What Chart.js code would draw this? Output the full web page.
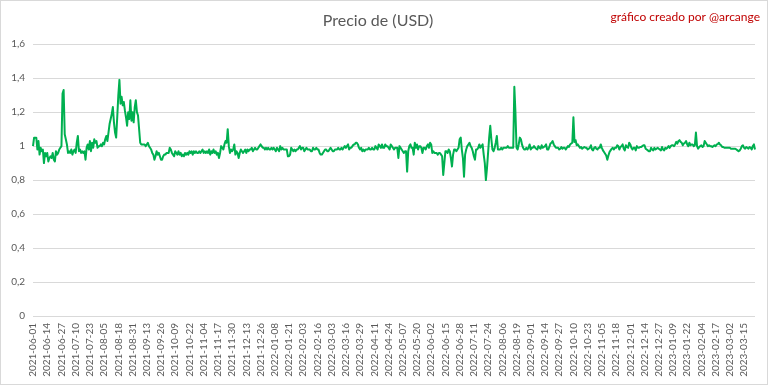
<!DOCTYPE html>
<html>
<head>
<meta charset="utf-8">
<script src="https://cdn.jsdelivr.net/npm/chart.js@4"></script>
<style>
  html, body { margin: 0; padding: 0; background: #fff; }
  #frame {
    position: absolute; left: 0; top: 0;
    width: 768px; height: 385px;
    box-sizing: border-box;
    border: 1px solid #d9d9d9;
    background: #fff;
  }
  #chart { display: block; }
</style>
</head>
<body>
<div id="frame"><canvas id="chart" width="766" height="383"></canvas></div>
<script>
// daily price (first day 2021-06-01)
const pricesJunSep21 = [
  1.00, 1.05, 1.05, 1.05, 0.98, 1.03, 0.95, 0.99, 0.97, 0.98,
  0.90, 0.96, 0.94, 0.96, 0.91, 0.93, 0.94, 0.93, 0.96, 0.92,
  0.91, 0.97, 0.95, 0.96, 0.98, 0.99, 1.00, 1.31, 1.33, 1.07,
  1.04, 1.01, 0.96, 0.97, 0.96, 0.98, 0.95, 0.97, 0.98, 0.96,
  1.02, 1.06, 0.97, 0.98, 0.96, 0.97, 0.96, 0.97, 0.92, 0.99,
  1.01, 0.98, 1.03, 0.97, 1.02, 0.99, 1.04, 1.02, 1.03, 0.99,
  1.00, 1.00, 1.01, 1.00, 1.02, 1.01, 1.04, 1.06, 1.03, 1.08,
  1.13, 1.16, 1.19, 1.23, 1.14, 1.08, 1.05, 1.17, 1.30, 1.39,
  1.25, 1.29, 1.24, 1.26, 1.21, 1.17, 1.12, 1.20, 1.16, 1.27,
  1.15, 1.20, 1.14, 1.23, 1.27, 1.20, 1.18, 1.10, 1.02, 1.01
]
const pricesSepDec21 = [
  1.01, 1.01, 1.01, 1.00, 1.01, 1.02, 1.00, 0.99, 0.98, 0.96,
  0.95, 0.92, 0.94, 0.97, 0.95, 0.96, 0.94, 0.92, 0.92, 0.94,
  0.95, 0.95, 0.96, 0.96, 0.96, 0.99, 0.98, 0.96, 0.95, 0.94,
  0.97, 0.96, 0.95, 0.97, 0.95, 0.96, 0.94, 0.95, 0.94, 0.96,
  0.95, 0.96, 0.95, 0.97, 0.96, 0.97, 0.95, 0.97, 0.96, 0.97,
  0.96, 0.96, 0.97, 0.96, 0.97, 0.98, 0.96, 0.97, 0.96, 0.97, 0.96,
  0.98, 0.95, 0.97, 0.96, 0.98, 0.96, 0.97, 0.95, 0.96, 0.93,
  0.96, 1.00, 0.99, 0.98, 1.01, 1.03, 1.02, 1.10, 1.00, 0.96,
  0.98, 0.97, 0.98, 1.01, 0.95, 0.97, 0.96, 0.93, 0.96, 0.98,
  0.97, 0.96, 0.97, 0.98, 0.96, 0.98, 0.97, 0.98, 0.98, 0.99
]
const pricesDec21Mar22 = [
  0.97, 0.98, 0.99, 0.98, 0.98, 0.99, 1.00, 1.01, 1.00, 0.99,
  0.99, 0.98, 0.99, 0.98, 0.99, 0.98, 0.98, 0.99, 0.98, 0.99,
  0.98, 0.97, 0.99, 0.98, 0.97, 1.00, 0.98, 0.99, 0.98, 0.98,
  0.98, 0.98, 0.94, 0.94, 0.95, 0.99, 0.98, 0.97, 0.98, 0.97,
  0.98, 0.98, 0.99, 1.00, 0.98, 0.99, 0.99, 0.97, 0.98, 0.99,
  0.98, 0.98, 0.98, 0.97, 0.97, 0.99, 0.98, 0.98, 0.99, 0.98,
  0.98, 0.96, 0.95, 0.95, 0.96, 0.97, 0.98, 0.98, 0.97, 0.97,
  0.98, 0.99, 0.98, 0.97, 0.97, 0.98, 0.98, 0.98, 0.99, 0.98,
  0.98, 0.99, 0.98, 0.99, 1.00, 0.99, 1.00, 1.01, 0.98, 0.99,
  0.99, 1.00, 1.01, 1.01, 1.02, 1.02, 1.01, 0.99, 0.98, 0.99
]
const pricesMarJul22 = [
  0.97, 0.98, 0.97, 0.98, 0.98, 0.98, 0.99, 0.98, 0.98, 0.99, 0.98,
  0.98, 1.00, 0.99, 0.98, 1.01, 1.00, 0.99, 1.01, 0.99, 0.99,
  1.01, 1.00, 1.00, 0.99, 0.98, 1.01, 1.00, 0.99, 0.98, 0.99,
  0.99, 0.99, 0.93, 1.00, 0.99, 0.98, 0.97, 0.96, 0.97, 0.97,
  0.85, 0.97, 1.00, 1.01, 0.99, 0.99, 0.95, 1.02, 0.99, 1.01,
  0.98, 1.00, 1.00, 0.99, 0.96, 0.99, 0.99, 0.98, 1.00, 1.01,
  0.99, 1.02, 1.01, 0.96, 0.97, 0.96, 0.96, 0.96, 0.95, 0.96,
  0.96, 0.95, 0.94, 0.83, 0.90, 0.97, 0.97, 0.96, 0.98, 0.97,
  0.93, 0.88, 0.95, 0.98, 0.98, 0.97, 0.98, 0.99, 1.04, 1.05,
  0.98, 0.93, 0.82, 0.95, 0.98, 1.00, 1.01, 1.02, 1.00, 0.99
]
const pricesJulOct22 = [
  0.97, 0.94, 0.92, 0.98, 0.98, 0.99, 1.01, 0.99, 1.00, 1.01,
  0.95, 0.90, 0.80, 0.87, 0.96, 1.05, 1.12, 1.04, 0.98, 0.97,
  0.99, 1.02, 1.06, 0.98, 0.98, 0.98, 0.99, 0.98, 0.99, 0.99,
  0.99, 0.99, 1.00, 0.99, 0.99, 0.99, 0.99, 0.99,
  1.35, 1.20, 0.99, 0.98, 1.01, 1.05, 1.04, 1.01, 0.99, 0.98,
  0.98, 0.99, 0.98, 0.99, 1.01, 0.98, 0.99, 0.99, 1.00, 0.99,
  0.985, 0.98, 1.00, 0.99, 0.985, 1.005, 0.99, 0.995, 1.00,
  1.01, 0.98, 0.98, 0.995, 1.015, 1.02, 1.03, 1.01, 1.00, 0.99,
  0.99, 0.99, 0.98, 0.985, 0.995, 0.985, 0.99, 0.99, 0.98, 0.99,
  1.00, 0.995, 1.01, 1.015, 1.02, 1.17, 1.025, 1.035, 1.005, 1.01,
  1.00, 0.99, 0.995, 0.985
]
const pricesOctJan23 = [
  0.99, 0.995, 0.99, 0.99, 0.98, 0.985,
  0.99, 1.005, 0.98, 0.975, 0.99, 0.995, 0.985, 0.98, 0.99, 0.99,
  1.01, 0.99, 0.975, 0.965, 0.955, 0.945, 0.92, 0.945, 0.965, 0.975,
  0.985, 0.99, 0.98, 0.99, 0.99, 1.005, 1.00, 0.98, 0.995, 1.00,
  1.01, 0.985, 0.975, 1.005, 0.995, 0.99, 1.02, 1.01, 0.99, 0.98,
  0.99, 0.99, 0.975, 1.00, 0.99, 0.99, 0.995, 0.995, 1.00, 1.005,
  1.005, 0.985, 0.98, 0.975, 0.97, 0.97, 0.99, 0.98, 0.975, 0.99,
  0.98, 0.985, 0.99, 0.985, 0.98, 0.975, 0.995, 0.98, 0.975, 0.99,
  0.985, 0.99, 1.00, 0.99, 1.00, 1.005, 1.005, 1.00, 1.01, 1.025,
  1.015, 1.03, 1.035, 1.025, 1.02, 1.005, 1.015, 1.02, 1.03, 1.01
]
const pricesJanMar23 = [
  1.00, 1.02, 1.005, 1.01, 1.01, 1.00, 1.005, 1.08, 1.00, 0.985,
  0.995, 1.00, 1.005, 0.995, 1.00, 1.03, 1.02, 1.01, 1.00, 1.005,
  1.00, 1.00, 0.995, 1.00, 1.005, 1.00, 1.01, 1.012, 1.02, 1.01,
  1.005, 0.995, 0.995, 0.99, 0.99, 0.99, 0.99, 0.99, 0.99, 0.985,
  0.985, 0.985, 0.985, 0.985, 0.98, 0.975, 0.97, 0.975, 0.985, 1.00,
  1.005, 0.99, 0.985, 0.995, 0.99, 0.985, 0.995, 0.99, 0.98, 1.00,
  1.01, 0.98
]

const prices = [
  ...pricesJunSep21, ...pricesSepDec21, ...pricesDec21Mar22, ...pricesMarJul22,
  ...pricesJulOct22, ...pricesOctJan23, ...pricesJanMar23
]

// dates on the axis, two days missing in the source around late February 2022
const firstDay = '2021-06-01'
const missingDays = ['2022-02-20', '2022-02-21']
const labelEvery = 13

const yTicks = [0, 0.2, 0.4, 0.6, 0.8, 1, 1.2, 1.4, 1.6]

function buildDates(count) {
  const dates = []
  const start = Date.parse(firstDay + 'T00:00:00Z')
  let day = 0
  while (dates.length < count) {
    const s = new Date(start + day * 86400000).toISOString().slice(0, 10)
    day++
    if (!missingDays.includes(s)) dates.push(s)
  }
  return dates
}

const dates = buildDates(prices.length)

const grey = '#595959'
const font = 'Lato, "Liberation Sans", sans-serif'

const creditPlugin = {
  id: 'credit',
  afterDraw(chart) {
    const ctx = chart.ctx
    ctx.save()
    ctx.font = '12px ' + font
    ctx.fillStyle = '#c00000'
    ctx.textAlign = 'right'
    ctx.textBaseline = 'middle'
    ctx.fillText('gráfico creado por @arcange', 759, 16)
    ctx.restore()
  }
}

/* eslint-disable no-new */
new Chart(document.getElementById('chart'), {
  type: 'line',
  data: {
    labels: dates,
    datasets: [{
      label: 'Precio',
      data: prices,
      borderColor: '#00b050',
      borderWidth: 2,
      borderJoinStyle: 'round',
      pointRadius: 0,
      tension: 0,
      fill: false
    }]
  },
  options: {
    responsive: false,
    animation: false,
    layout: { padding: { top: 0, right: 12, bottom: 0, left: 0 } },
    plugins: {
      legend: { display: false },
      tooltip: { enabled: false },
      title: {
        display: true,
        text: 'Precio de (USD)',
        color: grey,
        font: { family: font, size: 16, weight: 'normal' },
        padding: { top: 10, bottom: 14 }
      }
    },
    scales: {
      x: {
        grid: { display: false, drawTicks: false },
        border: { display: false },
        ticks: {
          autoSkip: false,
          minRotation: 90,
          maxRotation: 90,
          padding: 7,
          color: grey,
          font: { family: font, size: 10 },
          callback: (value, index) => (index % labelEvery === 0 ? dates[index] : null)
        },
        afterFit: (scale) => { scale.height = 68 }
      },
      y: {
        min: yTicks[0],
        max: yTicks[yTicks.length - 1],
        afterBuildTicks: (scale) => { scale.ticks = yTicks.map((v) => ({ value: v })) },
        grid: { color: '#d9d9d9', drawTicks: false },
        border: { display: false },
        ticks: {
          padding: 8,
          color: grey,
          font: { family: font, size: 10 },
          callback: (value) => String(Math.round(value * 10) / 10).replace('.', ',')
        },
        afterFit: (scale) => { scale.width = 32 }
      }
    }
  },
  plugins: [creditPlugin]
})
</script>
</body>
</html>
